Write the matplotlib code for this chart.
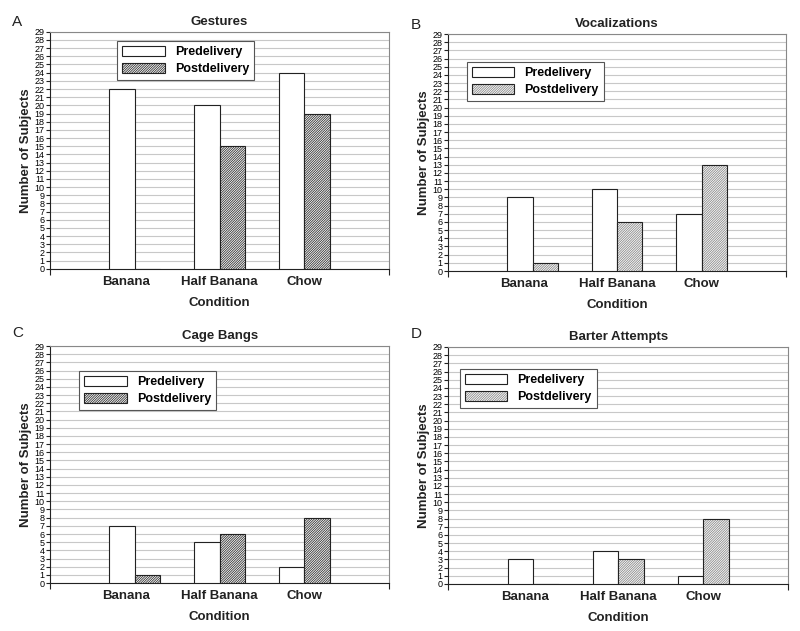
import matplotlib

matplotlib.use("Agg")
import matplotlib.pyplot as plt
from matplotlib.legend_handler import HandlerTuple
import numpy as np

plt.rcParams["font.family"] = ["Liberation Sans", "DejaVu Sans"]
plt.rcParams["hatch.linewidth"] = 0.6

conditions = ["Banana", "Half Banana", "Chow"]
series = ["Predelivery", "Postdelivery"]

gestures_pre = [22, 20, 24]
gestures_post = [0, 15, 19]
vocal_pre = [9, 10, 7]
vocal_post = [1, 6, 13]
bangs_pre = [7, 5, 2]
bangs_post = [1, 6, 8]
barter_pre = [3, 4, 1]
barter_post = [0, 3, 8]

panels = [
    ("A", "Gestures", gestures_pre, gestures_post, [0.0625, 0.574, 0.424, 0.3756], "#333333", (0.198, 0.962)),
    ("B", "Vocalizations", vocal_pre, vocal_post, [0.560, 0.5705, 0.4225, 0.3756], "#8a8a8a", (0.056, 0.882)),
    ("C", "Cage Bangs", bangs_pre, bangs_post, [0.0625, 0.076, 0.424, 0.3756], "#333333", (0.086, 0.895)),
    ("D", "Barter Attempts", barter_pre, barter_post, [0.560, 0.0745, 0.4255, 0.3756], "#8a8a8a", (0.035, 0.908)),
]

INK = "#222222"
GRID = "#c8c8c8"
HATCH = "/" * 14

fig = plt.figure(figsize=(8.0, 6.31), dpi=100)
x = np.arange(1, len(conditions) + 1)
w = 0.3

for letter, title, pre, post, rect, hcol, legpos in panels:
    ax = fig.add_axes(rect)
    pre_bars = ax.bar(x - w / 2, pre, width=w, facecolor="white", edgecolor=INK,
                      linewidth=0.8, zorder=3)
    fill = ax.bar(x + w / 2, post, width=w, facecolor="white", edgecolor=hcol,
                  linewidth=0, hatch=HATCH, zorder=3)
    outline = ax.bar(x + w / 2, post, width=w, fill=False, edgecolor=INK,
                     linewidth=0.8, zorder=4)
    ax.set_xlim(0, 4)
    ax.set_ylim(0, 29)
    ax.set_yticks(range(0, 30))
    ax.set_yticklabels([str(i) for i in range(30)], fontsize=6.5)
    ax.yaxis.grid(True, color=GRID, linewidth=0.8)
    ax.set_axisbelow(True)
    ax.set_xticks([0, 4])
    ax.set_xticklabels([])
    ax.tick_params(axis="x", length=4, direction="out", color=INK)
    ax.tick_params(axis="y", length=3, direction="out", color=INK, pad=1)
    for xi, name in zip(x, conditions):
        ax.text(xi - (0.1 if name == "Banana" else 0), -0.85, name, ha="center", va="top",
                fontsize=9.5, fontweight="bold", color=INK)
    ax.text(2.0, -3.4, "Condition", ha="center", va="top", fontsize=9.5,
            fontweight="bold", color=INK)
    ax.set_ylabel("Number of Subjects", fontsize=9.5, fontweight="bold", color=INK, labelpad=2)
    ax.set_title(title, fontsize=9.5, fontweight="bold", color=INK, pad=5)
    for side in ("top", "right"):
        ax.spines[side].set_color("#888888")
    for side in ("left", "bottom"):
        ax.spines[side].set_color(INK)
    leg = ax.legend([pre_bars[0], (fill[0], outline[0])], series,
                    handler_map={tuple: HandlerTuple(ndivide=1)},
                    loc="upper left", bbox_to_anchor=legpos, borderaxespad=0,
                    prop={"weight": "bold", "size": 9}, frameon=True, fancybox=False,
                    handlelength=3.4, handleheight=0.9, borderpad=0.4, labelspacing=0.35,
                    edgecolor="#555555", framealpha=1)
    leg.get_frame().set_linewidth(0.8)
    leg.set_zorder(5)
    top_pad = 0.015 if rect[1] > 0.5 else 0.02
    fig.text(rect[0] - 0.047, rect[1] + rect[3] + top_pad, letter, fontsize=11,
             va="center", ha="left", color=INK)

fig.savefig("out.png", dpi=100)
